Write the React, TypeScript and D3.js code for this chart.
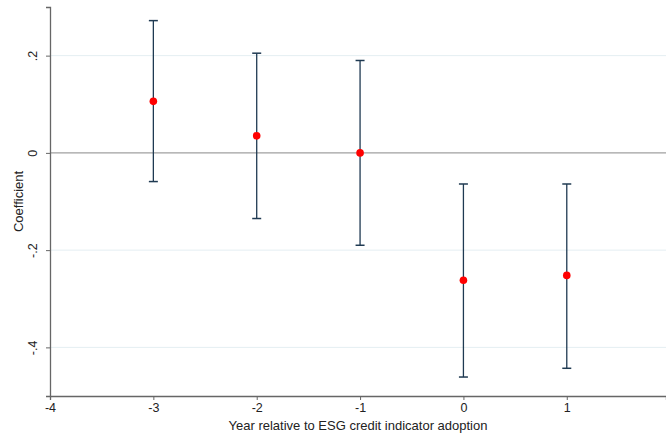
import React, { useRef, useEffect } from 'react';
import * as d3 from 'd3';

const years = [-3, -2, -1, 0, 1];
const coefs = [0.106, 0.035, 0.0, -0.262, -0.252];
const ciLow = [-0.059, -0.135, -0.19, -0.461, -0.443];
const ciHigh = [0.272, 0.205, 0.19, -0.064, -0.064];
const xTicks = [-4, -3, -2, -1, 0, 1];
const yTicks = [-0.4, -0.2, 0, 0.2];

const width = 666;
const height = 437;
const margin = { top: 7, right: 0, bottom: 41, left: 50 };
const font = 'Liberation Sans, Arial, sans-serif';

const fmt = (v: number) => {
  if (v === 0) return '0';
  return (v < 0 ? '-' : '') + String(Math.abs(v)).replace(/^0/, '');
};

const App = () => {
  const svgRef = useRef<SVGSVGElement>(null);

  useEffect(() => {
    const svgEl = d3.select(svgRef.current);
    svgEl.selectAll('*').remove();

    const x = d3.scaleLinear().domain([-4, 1.96]).range([margin.left, width - margin.right]);
    const y = d3.scaleLinear().domain([-0.5, 0.3]).range([height - margin.bottom, margin.top]);

    const g = svgEl.append('g').style('font-family', font);

    // faint gridlines
    g.selectAll('.grid')
      .data(yTicks.filter(t => t !== 0))
      .enter()
      .append('line')
      .attr('x1', margin.left)
      .attr('x2', width)
      .attr('y1', d => y(d))
      .attr('y2', d => y(d))
      .attr('stroke', '#e4eef2')
      .attr('stroke-width', 1);

    // zero line
    g.append('line')
      .attr('x1', margin.left)
      .attr('x2', width)
      .attr('y1', y(0))
      .attr('y2', y(0))
      .attr('stroke', '#a0a0a0')
      .attr('stroke-width', 1.2);

    // x-axis
    const xAxis = d3.axisBottom(x).tickValues(xTicks).tickSize(4).tickPadding(3).tickFormat(d => String(d));
    const xg = g.append('g').attr('transform', `translate(0, ${height - margin.bottom})`).call(xAxis);
    xg.select('.domain').attr('stroke', '#666').attr('stroke-width', 1.3);
    xg.selectAll('line').attr('stroke', '#666');
    xg.selectAll('text').attr('font-size', 12.5).attr('fill', '#222').style('font-family', font);

    // y-axis
    const yAxis = d3.axisLeft(y).tickValues(yTicks).tickSize(4).tickFormat(d => fmt(+d));
    const yg = g.append('g').attr('transform', `translate(${margin.left}, 0)`).call(yAxis);
    yg.select('.domain').attr('stroke', '#666').attr('stroke-width', 1.3);
    yg.selectAll('line').attr('stroke', '#666');
    yg.selectAll('text')
      .attr('font-size', 12.5)
      .attr('fill', '#222')
      .style('font-family', font)
      .attr('x', 0)
      .attr('dy', 0)
      .attr('text-anchor', 'middle')
      .attr('transform', 'translate(-13, 0) rotate(-90)');

    // axis titles
    g.append('text')
      .attr('x', (margin.left + width) / 2)
      .attr('y', 430)
      .attr('text-anchor', 'middle')
      .attr('font-size', 13)
      .attr('fill', '#222')
      .text('Year relative to ESG credit indicator adoption');

    g.append('text')
      .attr('transform', `translate(23, ${(margin.top + height - margin.bottom) / 2}) rotate(-90)`)
      .attr('text-anchor', 'middle')
      .attr('font-size', 13)
      .attr('fill', '#222')
      .text('Coefficient');

    // error bars
    const bars = g.selectAll('.bar').data(years).enter().append('g');
    bars.append('line')
      .attr('x1', d => x(d))
      .attr('x2', d => x(d))
      .attr('y1', (d, i) => y(ciLow[i]))
      .attr('y2', (d, i) => y(ciHigh[i]))
      .attr('stroke', '#1f3a52')
      .attr('stroke-width', 1.3);
    [ciLow, ciHigh].forEach(arr => {
      bars.append('line')
        .attr('x1', d => x(d) - 4.5)
        .attr('x2', d => x(d) + 4.5)
        .attr('y1', (d, i) => y(arr[i]))
        .attr('y2', (d, i) => y(arr[i]))
        .attr('stroke', '#1f3a52')
        .attr('stroke-width', 1.5);
    });

    // points
    g.selectAll('.pt')
      .data(years)
      .enter()
      .append('circle')
      .attr('cx', d => x(d))
      .attr('cy', (d, i) => y(coefs[i]))
      .attr('r', 3.8)
      .attr('fill', '#ff0000');
  }, []);

  return (
    <svg ref={svgRef} width={width} height={height} style={{ position: 'absolute', left: 0, top: 0, background: '#fff' }}></svg>
  );
};

export default App;
